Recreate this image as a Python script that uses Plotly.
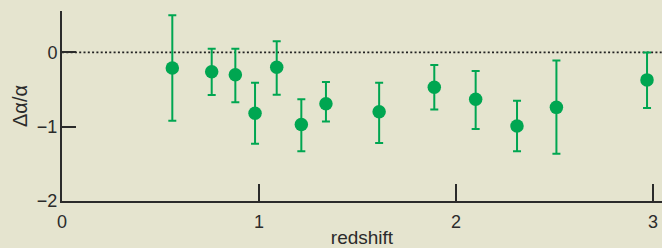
import plotly.graph_objects as go

# Data
redshift = [0.56, 0.76, 0.88, 0.98, 1.09, 1.215, 1.34, 1.61, 1.89, 2.10, 2.31, 2.51, 2.97]
dalpha = [-0.21, -0.26, -0.30, -0.82, -0.20, -0.97, -0.69, -0.80, -0.47, -0.63, -0.99, -0.74, -0.37]
upper = [0.50, 0.05, 0.05, -0.41, 0.15, -0.63, -0.40, -0.41, -0.17, -0.25, -0.65, -0.11, 0.00]
lower = [-0.92, -0.575, -0.67, -1.23, -0.57, -1.33, -0.93, -1.22, -0.77, -1.03, -1.33, -1.365, -0.75]

x_ticks = [0, 1, 2, 3]
y_ticks = [0, -1, -2]

err_plus = [u - v for u, v in zip(upper, dalpha)]
err_minus = [v - l for v, l in zip(dalpha, lower)]

GREEN = "#00a651"
BG = "#e5e4cf"
INK = "#2b2b2b"

fig = go.Figure()
fig.add_trace(go.Scatter(
    x=redshift, y=dalpha, mode="markers",
    marker=dict(color=GREEN, size=13.5, symbol="circle"),
    error_y=dict(type="data", symmetric=False, array=err_plus, arrayminus=err_minus,
                 color=GREEN, thickness=2, width=4),
    showlegend=False,
))

fig.add_shape(type="line", xref="paper", yref="y", x0=0, x1=1, y0=0, y1=0,
              line=dict(color="#222222", width=1.8, dash="2px,2.3px"), layer="below")

fig.update_layout(
    width=662, height=248,
    margin=dict(l=62, r=0, t=11, b=47),
    paper_bgcolor=BG, plot_bgcolor=BG,
    font=dict(family="Liberation Sans, Arial, sans-serif", size=18, color=INK),
)
fig.update_xaxes(
    range=[0, 3.046], tickvals=x_ticks, ticktext=[str(t) for t in x_ticks],
    showgrid=False, zeroline=False, showline=True, linecolor=INK, linewidth=2,
    ticks="inside", ticklen=17, tickwidth=1.5, tickcolor=INK,
    tickfont=dict(size=18, color=INK), ticklabelstandoff=3,
    title=dict(text="redshift", font=dict(size=19, color=INK), standoff=2),
    automargin=False,
)
fig.update_yaxes(
    range=[-2, 0.557], tickvals=y_ticks, ticktext=["0", "\u22121", "\u22122"],
    showgrid=False, zeroline=False, showline=True, linecolor=INK, linewidth=2,
    ticks="inside", ticklen=14, tickwidth=1.5, tickcolor=INK,
    tickfont=dict(size=18, color=INK), ticklabelstandoff=-1,
    title=dict(text="\u0394\u03b1/\u03b1", font=dict(size=20, color=INK), standoff=4),
    automargin=False,
)

fig.write_html(
    "out.html",
    config={"displayModeBar": False},
    post_script="document.body.style.margin='0';document.body.style.background='#e5e4cf';",
)
